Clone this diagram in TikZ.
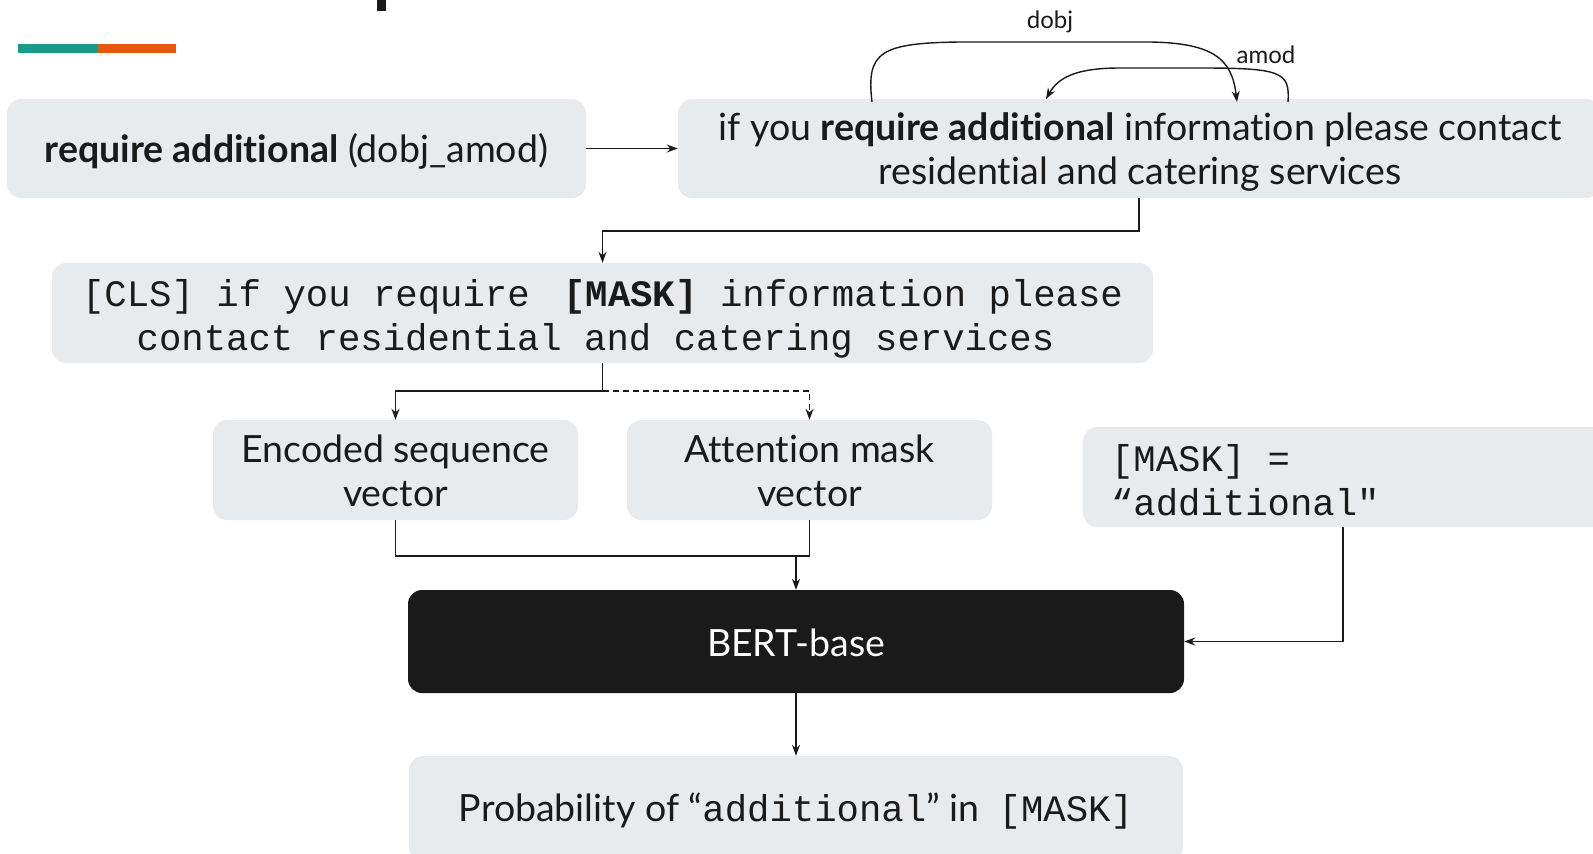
\documentclass[tikz,border=0pt]{standalone}
\usepackage{fontspec}
\setmainfont{Lato}[Ligatures=NoCommon]
\newfontfamily\mono{Liberation Mono}
\usetikzlibrary{arrows.meta}
\definecolor{boxgray}{HTML}{E8EBED}
\definecolor{teal1}{HTML}{1A9A8A}
\definecolor{orange1}{HTML}{E8580C}
\definecolor{ink}{HTML}{1A1A1A}
\tikzset{
  box/.style={fill=boxgray, rounded corners=14pt, inner sep=0pt},
  blackbox/.style={fill=ink, rounded corners=14pt, inner sep=0pt},
  txt/.style={inner sep=0pt, align=center, text=ink, font=\fontsize{37.5}{44}\selectfont},
  monotxt/.style={inner sep=0pt, align=center, text=ink, font=\mono\fontsize{37.3}{44}\selectfont},
  arr/.style={draw=ink, line width=1.6pt, -{Stealth[length=11pt,width=8pt]}},
  ln/.style={draw=ink, line width=1.6pt},
  deplabel/.style={font=\fontsize{24}{28}\selectfont, text=ink, inner sep=0pt},
}
\begin{document}
\begin{tikzpicture}[x=1pt,y=-1pt]
\useasboundingbox (0,0) rectangle (1593,854);
\clip (0,0) rectangle (1593,854);
% accent bar and title fragment
\fill[teal1] (18,44) rectangle (98,53);
\fill[orange1] (98,44) rectangle (176,53);
\fill[ink] (377,0) rectangle (386,11);
% boxes
\node[box, minimum width=579pt, minimum height=99pt] (b1) at (296.5,148.5) {};
\node[txt] (t1) at ([yshift=-3pt]b1.center)
  {\textbf{require additional} (dobj\_amod)};
\node[box, minimum width=922pt, minimum height=99pt] (b2) at (1139,148.5) {};
\node[txt] (t2) at ([xshift=1pt,yshift=-3pt]b2.center)
  {if you \textbf{require additional} information please contact\\residential and catering services};
\node[box, minimum width=1101pt, minimum height=100pt] (b3) at (602.5,313) {};
\node[monotxt] (t3) at ([yshift=-6pt]b3.center)
  {[CLS] if you require\hspace{0.3em} \textbf{[MASK]} information please\\contact residential and catering services\hspace*{14pt}};
\node[box, minimum width=365pt, minimum height=100pt] (b4) at (395.5,470) {};
\node[txt] (t4) at ([yshift=-1pt]b4.center) {Encoded sequence\\vector};
\node[box, minimum width=365pt, minimum height=100pt] (b5) at (809.5,470) {};
\node[txt] (t5) at ([yshift=-1pt]b5.center) {Attention mask\\vector};
\node[box, minimum width=527pt, minimum height=100pt] (b6) at (1346.5,477) {};
\node[monotxt, align=left, anchor=west] (t6) at ([xshift=28pt,yshift=-3pt]b6.west)
  {[MASK] =\\“additional"};
\node[blackbox, minimum width=776pt, minimum height=103pt] (bert) at (796,641.5) {};
\node[txt, text=white] (tb) at ([yshift=-1pt]bert.center) {BERT-base};
\node[box, minimum width=774pt, minimum height=104pt] (out) at (796,808) {};
\node[txt] (to) at ([yshift=-3pt]out.center)
  {Probability of “{\mono\fontsize{37.3}{44}\selectfont additional}” in\ \ {\mono\fontsize{37.3}{44}\selectfont [MASK]}};
% dependency arcs
\coordinate (dobjS) at (872,102);
\coordinate (dobjE) at (1237,102);
\coordinate (amodS) at (1288,102);
\coordinate (amodE) at (1046,99);
\draw[arr, line width=1.4pt] (dobjS) .. controls (866,52) and (880,43) .. (960,42)
  -- (1150,42) .. controls (1215,43) and (1232,60) .. (dobjE);
\draw[arr, line width=1.4pt] (amodS) .. controls (1290,72) and (1282,68) .. (1200,68)
  -- (1120,68) .. controls (1075,68) and (1058,78) .. (amodE);
\node[deplabel] (lbl1) at (1050,22) {dobj};
\node[deplabel] (lbl2) at (1266,55) {amod};
% connectors
\draw[arr] (b1.east) -- (b2.west);
\draw[arr] (b2.south) -- ++(0,33) -| (b3.north);
\coordinate (j1) at ([yshift=-28pt]b3.south);
\draw[ln] (b3.south) -- (j1);
\draw[arr] (j1) -| (b4.north);
\draw[arr, dashed, dash pattern=on 6pt off 4pt] (j1) -| (b5.north);
\draw[ln] (b4.south) |- (797,556) -| (b5.south);
\coordinate (j2) at (bert.north |- 0,556);
\draw[arr] (j2) -- (bert.north);
\draw[arr] (b6.south -| 1343,0) |- (bert.east);
\draw[arr] (bert.south) -- (out.north);
\end{tikzpicture}
\end{document}
